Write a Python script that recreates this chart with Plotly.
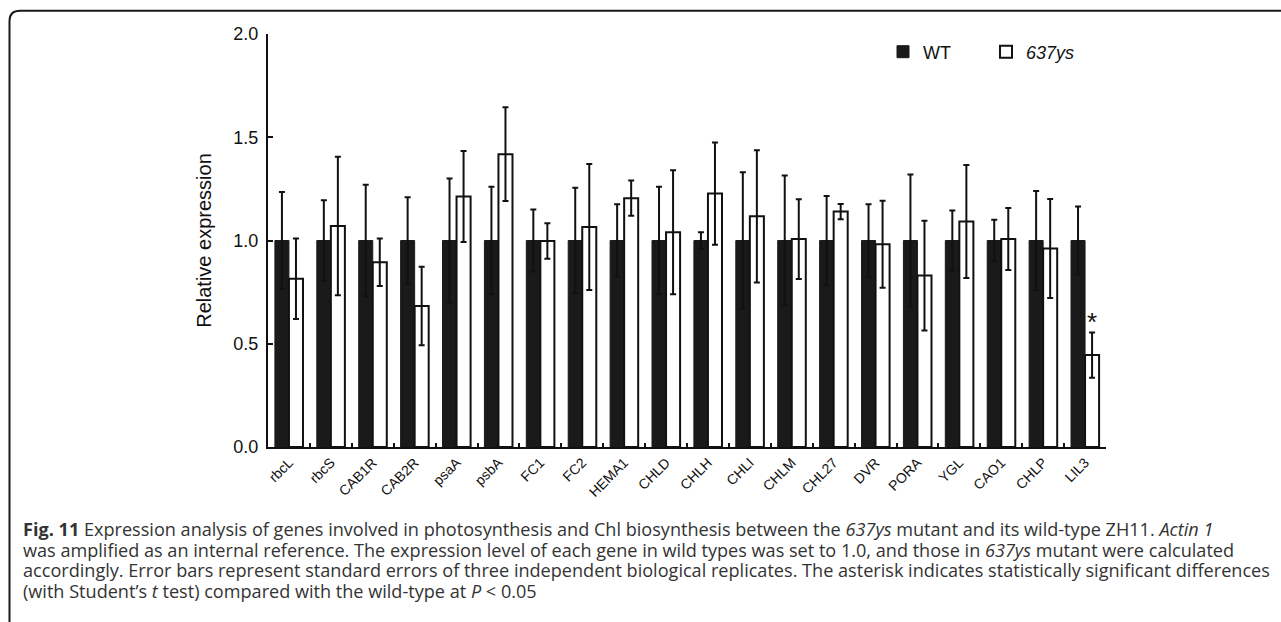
import plotly.graph_objects as go

genes = ["rbcL", "rbcS", "CAB1R", "CAB2R", "psaA", "psbA", "FC1", "FC2", "HEMA1", "CHLD",
         "CHLH", "CHLI", "CHLM", "CHL27", "DVR", "PORA", "YGL", "CAO1", "CHLP", "LIL3"]
wt_values = [1.0, 1.0, 1.0, 1.0, 1.0, 1.0, 1.0, 1.0, 1.0, 1.0,
             1.0, 1.0, 1.0, 1.0, 1.0, 1.0, 1.0, 1.0, 1.0, 1.0]
wt_errors = [0.235, 0.195, 0.27, 0.21, 0.30, 0.26, 0.15, 0.255, 0.175, 0.26,
             0.04, 0.33, 0.315, 0.215, 0.175, 0.32, 0.145, 0.10, 0.24, 0.165]
ys_values = [0.815, 1.07, 0.895, 0.683, 1.213, 1.418, 0.998, 1.065, 1.205, 1.04,
             1.227, 1.117, 1.007, 1.14, 0.982, 0.83, 1.092, 1.007, 0.961, 0.445]
ys_errors = [0.195, 0.335, 0.115, 0.19, 0.22, 0.227, 0.086, 0.305, 0.085, 0.30,
             0.248, 0.32, 0.193, 0.037, 0.211, 0.266, 0.274, 0.15, 0.24, 0.11]
y_ticks = [0.0, 0.5, 1.0, 1.5, 2.0]
signif_gene = "LIL3"
signif_y = 0.605

caption_lines = [
    "<b>Fig. 11</b> Expression analysis of genes involved in photosynthesis and Chl biosynthesis between the <i>637ys</i> mutant and its wild-type ZH11. <i>Actin 1</i>",
    "was amplified as an internal reference. The expression level of each gene in wild types was set to 1.0, and those in <i>637ys</i> mutant were calculated",
    "accordingly. Error bars represent standard errors of three independent biological replicates. The asterisk indicates statistically significant differences",
    "(with Student\u2019s <i>t</i> test) compared with the wild-type at <i>P</i> &lt; 0.05",
]

W, H = 1281, 622
L, R, T, B = 268, 175, 34, 175
PW, PH = W - L - R, H - T - B


def px(x):
    return (x - L) / PW


def py(y):
    return (H - B - y) / PH


AX = "#111111"
FONT = "Arial, Liberation Sans, sans-serif"

fig = go.Figure()
fig.add_trace(go.Bar(
    x=genes, y=wt_values, name="WT",
    marker=dict(color="#1a1a1a", line=dict(color="#1a1a1a", width=1)),
    error_y=dict(type="data", array=wt_errors, color=AX, thickness=2, width=3),
))
fig.add_trace(go.Bar(
    x=genes, y=ys_values, name="<i>637ys</i>",
    marker=dict(color="white", line=dict(color=AX, width=2)),
    error_y=dict(type="data", array=ys_errors, color=AX, thickness=2, width=3),
))

fig.update_layout(
    width=W, height=H,
    margin=dict(l=L, r=R, t=T, b=B, autoexpand=False),
    paper_bgcolor="white", plot_bgcolor="white",
    barmode="group", bargap=0.33, bargroupgap=0.0,
    font=dict(family=FONT, color=AX),
    showlegend=True,
    legend=dict(orientation="h", x=px(883), y=py(52), xanchor="left", yanchor="middle",
                font=dict(size=18, family=FONT, color=AX), bgcolor="rgba(0,0,0,0)",
                entrywidth=58, entrywidthmode="pixels", itemwidth=30),
)
fig.update_yaxes(
    range=[0, 2.0], tickvals=y_ticks, tickformat=".1f",
    showline=True, linecolor=AX, linewidth=2,
    ticks="inside", ticklen=5, tickwidth=2, tickcolor=AX,
    showgrid=False, zeroline=False,
    tickfont=dict(size=18, family=FONT, color=AX), ticklabelstandoff=4,
    title=dict(text="Relative expression", font=dict(size=20, family=FONT, color=AX), standoff=16),
)
fig.update_xaxes(
    showline=True, linecolor=AX, linewidth=2,
    ticks="inside", ticklen=4, tickwidth=2, tickcolor=AX, tickson="boundaries",
    tickangle=-45, tickfont=dict(size=14, family=FONT, color=AX),
    showgrid=False, zeroline=False,
)

fig.add_annotation(x=signif_gene, y=signif_y, xref="x", yref="y", text="*",
                   showarrow=False, xshift=7, font=dict(size=26, family=FONT, color=AX))

# caption
line_y = [529, 549.5, 570, 590.5]
for txt, ly in zip(caption_lines, line_y):
    fig.add_annotation(x=px(21), y=py(ly), xref="paper", yref="paper", text=txt,
                       showarrow=False, xanchor="left", yanchor="middle", align="left",
                       font=dict(size=18.1, family="Open Sans, Noto Sans, sans-serif", color="#333333"))

# frame (left + top border with rounded corner)
path = (f"M {px(9.5)},{py(640)} L {px(9.5)},{py(21)} "
        f"Q {px(9.5)},{py(10.7)} {px(20)},{py(10.7)} L {px(1290)},{py(10.7)}")
fig.add_shape(type="path", path=path, xref="paper", yref="paper",
              line=dict(color="#1a1a1a", width=2))

fig.write_html("out.html", config={"displayModeBar": False},
               post_script="document.body.style.margin='0px';document.body.style.overflow='hidden';")
